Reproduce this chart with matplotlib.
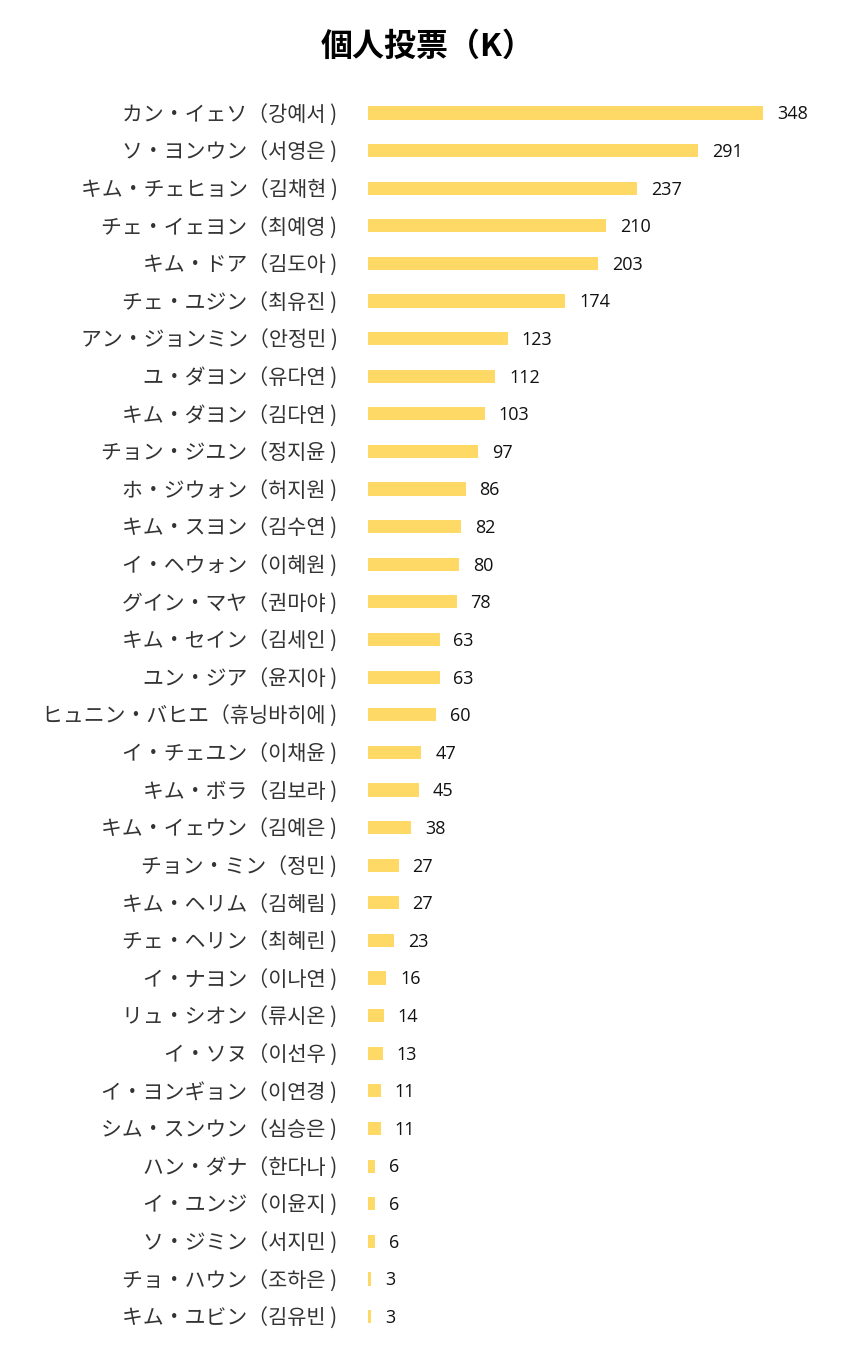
import matplotlib.pyplot as plt

plt.rcParams['font.family'] = ['Noto Sans CJK JP', 'Noto Sans CJK KR', 'DejaVu Sans']

names_jp = ['カン・イェソ', 'ソ・ヨンウン', 'キム・チェヒョン', 'チェ・イェヨン', 'キム・ドア',
            'チェ・ユジン', 'アン・ジョンミン', 'ユ・ダヨン', 'キム・ダヨン', 'チョン・ジユン',
            'ホ・ジウォン', 'キム・スヨン', 'イ・ヘウォン', 'グイン・マヤ', 'キム・セイン',
            'ユン・ジア', 'ヒュニン・バヒエ', 'イ・チェユン', 'キム・ボラ', 'キム・イェウン',
            'チョン・ミン', 'キム・ヘリム', 'チェ・ヘリン', 'イ・ナヨン', 'リュ・シオン',
            'イ・ソヌ', 'イ・ヨンギョン', 'シム・スンウン', 'ハン・ダナ', 'イ・ユンジ',
            'ソ・ジミン', 'チョ・ハウン', 'キム・ユビン']
names_kr = ['강예서', '서영은', '김채현', '최예영', '김도아',
            '최유진', '안정민', '유다연', '김다연', '정지윤',
            '허지원', '김수연', '이혜원', '권마야', '김세인',
            '윤지아', '휴닝바히에', '이채윤', '김보라', '김예은',
            '정민', '김혜림', '최혜린', '이나연', '류시온',
            '이선우', '이연경', '심승은', '한다나', '이윤지',
            '서지민', '조하은', '김유빈']
votes = [348, 291, 237, 210, 203, 174, 123, 112, 103, 97, 86, 82, 80, 78, 63,
         63, 60, 47, 45, 38, 27, 27, 23, 16, 14, 13, 11, 11, 6, 6, 6, 3, 3]

labels = [j + '（' + k + ' )' for j, k in zip(names_jp, names_kr)]

fig = plt.figure(figsize=(8.5, 13.64), dpi=100)
ax = fig.add_axes([0.433, 0.021, 0.534, 0.910])

pos = list(range(len(votes)))
ax.barh(pos, votes, height=0.35, color='#FFD966')
ax.set_ylim(len(votes) - 0.5, -0.5)
ax.set_xlim(0, 400)
ax.set_yticks(pos)
ax.set_yticklabels(labels, fontsize=15, color='#333333')
ax.tick_params(axis='y', length=0, pad=22)
ax.set_xticks([])
for s in ax.spines.values():
    s.set_visible(False)

# value labels at bar ends
for p, v in zip(pos, votes):
    ax.annotate(str(v), (v, p), xytext=(10, -1), textcoords='offset points',
                va='center', ha='left', fontsize=13, color='#111111',
                family=['Open Sans', 'DejaVu Sans'])

fig.text(0.503, 0.966, '個人投票（K）', ha='center', va='center',
         fontsize=23, fontweight='bold')

fig.savefig('out.png', dpi=100, facecolor='white')
